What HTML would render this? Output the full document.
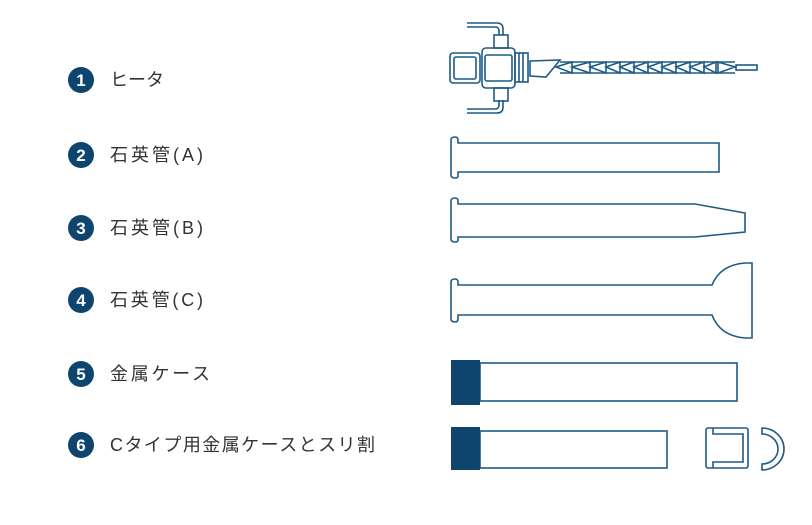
<!DOCTYPE html>
<html><head><meta charset="utf-8"><style>
html,body{margin:0;padding:0;background:#fff;}
svg{display:block}
text{font-family:"Liberation Sans","Noto Sans CJK JP",sans-serif;}
</style></head><body>
<svg width="812" height="525" viewBox="0 0 812 525" xmlns="http://www.w3.org/2000/svg">
<g fill="#0e456e">
<circle cx="81" cy="80" r="13"/><circle cx="81" cy="155" r="13"/><circle cx="81" cy="228" r="13"/>
<circle cx="81" cy="300" r="13"/><circle cx="81" cy="374" r="13"/><circle cx="81" cy="445" r="13"/>
</g>
<g fill="#fff" font-size="17" font-weight="bold" text-anchor="middle">
<text x="81" y="86">1</text><text x="81" y="161">2</text><text x="81" y="234">3</text>
<text x="81" y="306">4</text><text x="81" y="380">5</text><text x="81" y="451">6</text>
</g>
<g fill="#333" font-size="18">
<text x="110" y="86" textLength="54">ヒータ</text>
<text x="110" y="161" textLength="93">石英管(A)</text>
<text x="110" y="234" textLength="93">石英管(B)</text>
<text x="110" y="306" textLength="93">石英管(C)</text>
<text x="110" y="380" textLength="100">金属ケース</text>
<text x="110" y="451" textLength="265">Cタイプ用金属ケースとスリ割</text>
</g>
<g fill="none" stroke="#1d5a85" stroke-width="1.6">
<!-- heater -->
<path d="M467 23 H497 Q503 23 503 29 V35 M467 27 H495 Q499 27 499 31 V35"/>
<path d="M467 113 H497 Q503 113 503 107 V100 M467 109 H495 Q499 109 499 105 V100"/>
<rect x="494" y="35" width="14" height="13"/>
<rect x="494" y="88" width="14" height="13"/>
<rect x="450" y="53" width="30" height="30" rx="3"/>
<rect x="454" y="57" width="22" height="22" rx="2"/>
<rect x="482" y="48" width="33" height="40" rx="4"/>
<rect x="485" y="55" width="27" height="26" rx="2"/>
<rect x="515" y="53" width="13" height="29"/>
<path d="M519 53 V82 M523 53 V82"/>
<path d="M530 61 L560 60 L546 77 L530 76 Z"/>
<path d="M560 62 L735 62 M560 73 L735 73"/>
<path d="M556 67 L572 62 L572 73 Z M572 67 L590 62 V73 Z M590 67 L606 62 V73 Z M606 67 L620 62 V73 Z M620 67 L634 62 V73 Z M634 67 L648 62 V73 Z M648 67 L662 62 V73 Z M662 67 L676 62 V73 Z M676 67 L690 62 V73 Z M690 67 L704 62 V73 Z M704 67 L716 62 V73 Z M718 62 L735 67 L718 73 Z"/>
<rect x="736" y="65" width="21" height="5"/>
<!-- tube 2 -->
<path d="M458 143 H719 V172 H458 V176 Q458 178 455 178 Q451 178 451 175 V140 Q451 137 455 137 Q458 137 458 140 Z"/>
<!-- tube 3 -->
<path d="M458 204 H695 L745 213 V232 L695 237 H458 V240 Q458 242 455 242 Q451 242 451 239 V201 Q451 198 455 198 Q458 198 458 201 Z"/>
<!-- tube 4 -->
<path d="M458 285 H712 Q720 265 745 263 H752 V338 H745 Q720 336 712 315 H458 V319 Q458 322 455 322 Q451 322 451 319 V282 Q451 279 455 279 Q458 279 458 282 Z"/>
<!-- case 5 -->
<rect x="480" y="363" width="257" height="38"/>
<!-- case 6 -->
<rect x="480" y="431" width="187" height="37"/>
<rect x="706" y="428" width="42" height="40" rx="2"/>
<path d="M713 428 V434 H743 V462 H713 V468"/>
<path d="M762 428 A22 21 0 0 1 762 470 V464 A16 15 0 0 0 762 434 Z"/>
</g>
<g fill="#0e456e">
<rect x="451" y="360" width="29" height="45"/>
<rect x="451" y="427" width="29" height="43"/>
</g>
</svg>
</body></html>
